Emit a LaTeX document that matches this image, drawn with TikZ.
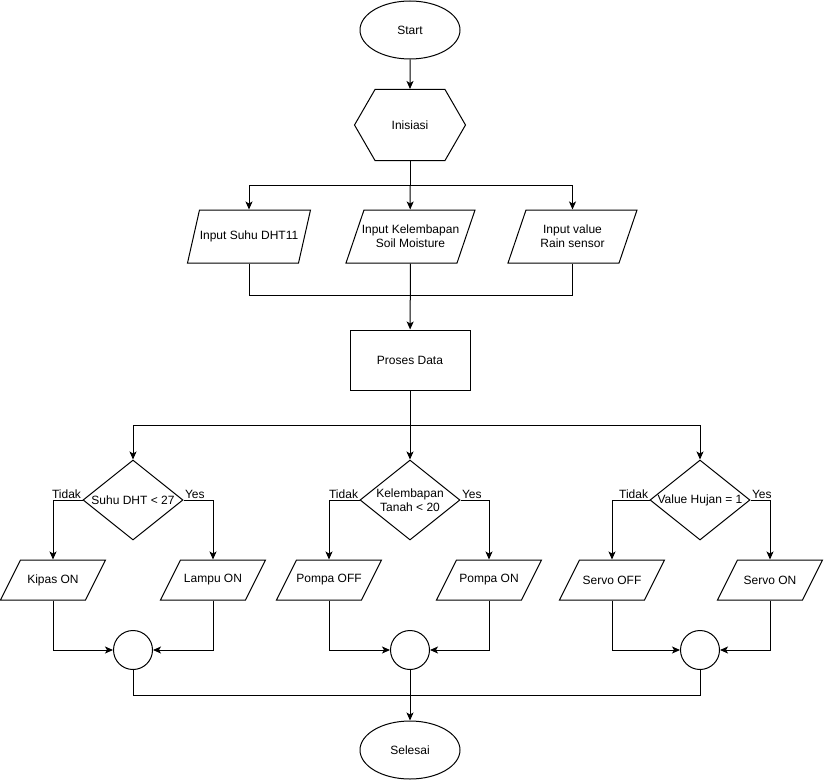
\documentclass[tikz,border=0pt]{standalone}
\usepackage{fontspec}
\setmainfont{Liberation Sans}
\usepackage{tikz}
\usetikzlibrary{positioning,arrows.meta,shapes.geometric,shapes.symbols}

\tikzset{
  base/.style={draw, line width=1pt, inner sep=0pt, font=\fontsize{12}{14}\selectfont},
  terminal/.style={base, ellipse, minimum width=100, minimum height=58},
  prep/.style={base, signal, signal to=west and east, signal pointer angle=120, minimum width=111, minimum height=71},
  io/.style={base, trapezium, trapezium left angle=71.25, trapezium right angle=108.75,
    trapezium stretches body, inner xsep=0, inner ysep=26.5, minimum width=129},
  outbox/.style={base, trapezium, trapezium left angle=63.43, trapezium right angle=116.57,
    trapezium stretches body, inner xsep=0, inner ysep=20, minimum width=105},
  process/.style={base, rectangle, minimum width=120, minimum height=60},
  decision/.style={base, diamond, minimum width=100, minimum height=80},
  joint/.style={base, circle, minimum size=39},
  lbl/.style={font=\fontsize{12}{14}\selectfont, inner sep=1pt, align=center},
  line/.style={line width=1pt},
  arr/.style={line width=1pt, -{Stealth[length=8pt, width=7pt, inset=2pt]}}
}

\begin{document}
\begin{tikzpicture}[x=1pt, y=-1pt]
\useasboundingbox (0,0) rectangle (826,781);

\node[terminal] (start) at (410,30) {Start};
\node[prep] (init) at (410,125) {Inisiasi};

\node[io, trapezium left angle=77.25, trapezium right angle=102.75, minimum width=123,
  label={[lbl]center:{Input Suhu DHT11}}] (in_suhu) at (249,236.5) {};
\node[io, label={[lbl]center:{Input Kelembapan\\Soil Moisture}}] (in_soil) at (410.5,236.5) {};
\node[io, label={[lbl]center:{Input value\\Rain sensor}}] (in_rain) at (572.5,236.5) {};

\node[process] (proses) at (410,360) {Proses Data};

% cabang keputusan
\node[decision, label={[lbl]center:{Suhu DHT < 27}}] (dec_suhu) at (133,500) {};
\node[decision, label={[lbl]center:{Kelembapan\\Tanah < 20}}] (dec_soil) at (410,500) {};
\node[decision, label={[lbl]center:{Value Hujan = 1}}] (dec_rain) at (700,500) {};

\node[outbox, label={[lbl]center:{Kipas ON}}] (kipas) at (53,580) {};
\node[outbox, label={[lbl]center:{Lampu ON}}] (lampu) at (213,580) {};
\node[outbox, label={[lbl]center:{Pompa OFF}}] (pompa_off) at (329,580) {};
\node[outbox, label={[lbl]center:{Pompa ON}}] (pompa_on) at (489,580) {};
\node[outbox, label={[lbl]center:{Servo OFF}}] (servo_off) at (612,580) {};
\node[outbox, label={[lbl]center:{Servo ON}}] (servo_on) at (770,580) {};

\node[joint] (join_suhu) at (133,650) {};
\node[joint] (join_soil) at (410,650) {};
\node[joint] (join_rain) at (700,650) {};

\node[terminal] (selesai) at (410,750) {Selesai};

\coordinate (split_in) at (410,185);
\coordinate (merge_in) at (410,295);
\coordinate (split_dec) at (410,425);
\coordinate (merge_out) at (410,695);

% alur utama
\draw[arr] (start) -- (init);
\draw[line] (init) -- (split_in);
\draw[arr] (split_in) -| (in_suhu);
\draw[arr] (split_in) -- (in_soil);
\draw[arr] (split_in) -| (in_rain);
\draw[line] (in_suhu) |- (merge_in);
\draw[line] (in_rain) |- (merge_in);
\draw[arr] (in_soil) -- (proses);
\draw[line] (proses) -- (split_dec);
\draw[arr] (split_dec) -| (dec_suhu);
\draw[arr] (split_dec) -- (dec_soil);
\draw[arr] (split_dec) -| (dec_rain);

% suhu
\draw[arr] (dec_suhu.west) -| (kipas) node[lbl, pos=0, anchor=south east] {Tidak};
\draw[arr] (dec_suhu.east) -| (lampu) node[lbl, pos=0, anchor=south west] {Yes};
\draw[arr] (kipas) |- (join_suhu);
\draw[arr] (lampu) |- (join_suhu);

% kelembapan
\draw[arr] (dec_soil.west) -| (pompa_off) node[lbl, pos=0, anchor=south east] {Tidak};
\draw[arr] (dec_soil.east) -| (pompa_on) node[lbl, pos=0, anchor=south west] {Yes};
\draw[arr] (pompa_off) |- (join_soil);
\draw[arr] (pompa_on) |- (join_soil);

% hujan
\draw[arr] (dec_rain.west) -| (servo_off) node[lbl, pos=0, anchor=south east] {Tidak};
\draw[arr] (dec_rain.east) -| (servo_on) node[lbl, pos=0, anchor=south west] {Yes};
\draw[arr] (servo_off) |- (join_rain);
\draw[arr] (servo_on) |- (join_rain);

\draw[line] (join_suhu) |- (merge_out);
\draw[line] (join_rain) |- (merge_out);
\draw[arr] (join_soil) -- (selesai);

\end{tikzpicture}
\end{document}
